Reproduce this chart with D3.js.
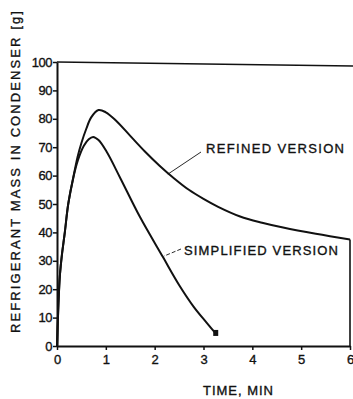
<!DOCTYPE html>
<html><head><meta charset="utf-8">
<script src="https://cdn.jsdelivr.net/npm/d3@7"></script>
<style>body{margin:0;background:#fff}svg{display:block}text{font-family:"Liberation Sans",Arial,sans-serif;fill:#111}</style>
</head><body><svg id="c" width="353" height="399"></svg>
<script>
const timeTicks = [0,1,2,3,4,5,6];
const massTicks = [0,10,20,30,40,50,60,70,80,90,100];
const refinedTime = [0,0.03,0.06,0.1,0.16,0.23,0.33,0.42,0.5,0.6,0.7,0.85,1.0,1.2,1.5,1.8,2.1,2.4,2.7,3.0,3.3,3.75,4.2,4.63,5.3,6.0];
const refinedMass = [0,15,25,32,40,50,59,66.5,71.5,76.5,80.5,83.1,82.3,79.5,74,68.5,63.5,59,55,51.8,49,45.6,43.4,41.7,39.5,37.5];
const simplifiedTime = [0,0.03,0.06,0.1,0.16,0.23,0.33,0.43,0.55,0.65,0.74,0.85,1.02,1.3,1.7,2.17,2.5,2.8,3.05,3.24];
const simplifiedMass = [0,15,25,32,40,50,59,65.5,70.5,72.8,73.6,72.5,68.3,59,45.4,31.3,21.5,13.8,8.5,4.6];
const labels = {y:"REFRIGERANT MASS IN CONDENSER [g]", x:"TIME, MIN", refined:"REFINED VERSION", simplified:"SIMPLIFIED VERSION"};

const svg = d3.select("#c");
const x = d3.scaleLinear().domain([0,6]).range([57,350]);
const y = d3.scaleLinear().domain([0,100]).range([346,62]);

// frame: top and partial right
svg.append("line").attr("x1",x(0)).attr("x2",353).attr("y1",y(100)).attr("y2",y(100)+4).attr("stroke","#111").attr("stroke-width",1.6);
svg.append("line").attr("x1",x(6)).attr("x2",x(6)).attr("y1",y(37.5)).attr("y2",y(0)).attr("stroke","#111").attr("stroke-width",1.6);

const ax = svg.append("g").attr("transform",`translate(0,${y(0)})`)
  .call(d3.axisBottom(x).tickValues(timeTicks).tickFormat(d3.format("d")).tickSize(4).tickPadding(5).tickSizeOuter(0));
const ay = svg.append("g").attr("transform",`translate(${x(0)},0)`)
  .call(d3.axisLeft(y).tickValues(massTicks).tickFormat(d3.format("d")).tickSize(4).tickPadding(1).tickSizeOuter(0));
[ax,ay].forEach(g=>{
  g.select(".domain").attr("stroke","#111").attr("stroke-width",2);
  g.selectAll(".tick line").attr("stroke","#111").attr("stroke-width",1.5);
  g.selectAll(".tick text").attr("font-size",13).attr("fill","#111").attr("stroke","#111").attr("stroke-width",0.35)
    .style("font-family","Liberation Sans, Arial, sans-serif");
});
ay.selectAll(".tick text").attr("letter-spacing",-0.5);

const line = d3.line().x(d=>x(d[0])).y(d=>y(d[1])).curve(d3.curveCatmullRom.alpha(0.5));
svg.append("path").datum(refinedTime.map((t,i)=>[t,refinedMass[i]])).attr("d",line)
  .attr("fill","none").attr("stroke","#111").attr("stroke-width",2);
svg.append("path").datum(simplifiedTime.map((t,i)=>[t,simplifiedMass[i]])).attr("d",line)
  .attr("fill","none").attr("stroke","#111").attr("stroke-width",2);
// end marker
const lt = simplifiedTime[simplifiedTime.length-1], lm = simplifiedMass[simplifiedMass.length-1];
svg.append("rect").attr("x",x(lt)-2).attr("y",y(lm)-3).attr("width",5).attr("height",6).attr("fill","#111");

// labels
const tstyle = s => s.attr("stroke","#111").attr("stroke-width",0.35);
svg.append("text").attr("transform","translate(20,172) rotate(-90)").attr("text-anchor","middle")
  .attr("font-size",13).attr("textLength",322).attr("lengthAdjust","spacing").text(labels.y).call(tstyle);
svg.append("text").attr("x",238).attr("y",395).attr("text-anchor","middle").attr("font-size",13).attr("textLength",70).text(labels.x).call(tstyle);
svg.append("text").attr("x",206).attr("y",153).attr("font-size",13).attr("textLength",138).attr("lengthAdjust","spacing").text(labels.refined).call(tstyle);
svg.append("text").attr("x",184).attr("y",255).attr("font-size",13).attr("textLength",154).attr("lengthAdjust","spacing").text(labels.simplified).call(tstyle);
// leaders
svg.append("line").attr("x1",201).attr("y1",152).attr("x2",x(2.27)).attr("y2",y(60.5)).attr("stroke","#111").attr("stroke-width",0.9);
svg.append("line").attr("x1",181).attr("y1",249).attr("x2",x(2.17)+1).attr("y2",y(31.3)-1).attr("stroke","#111").attr("stroke-width",0.9).attr("stroke-dasharray","4,2");
</script></body></html>
